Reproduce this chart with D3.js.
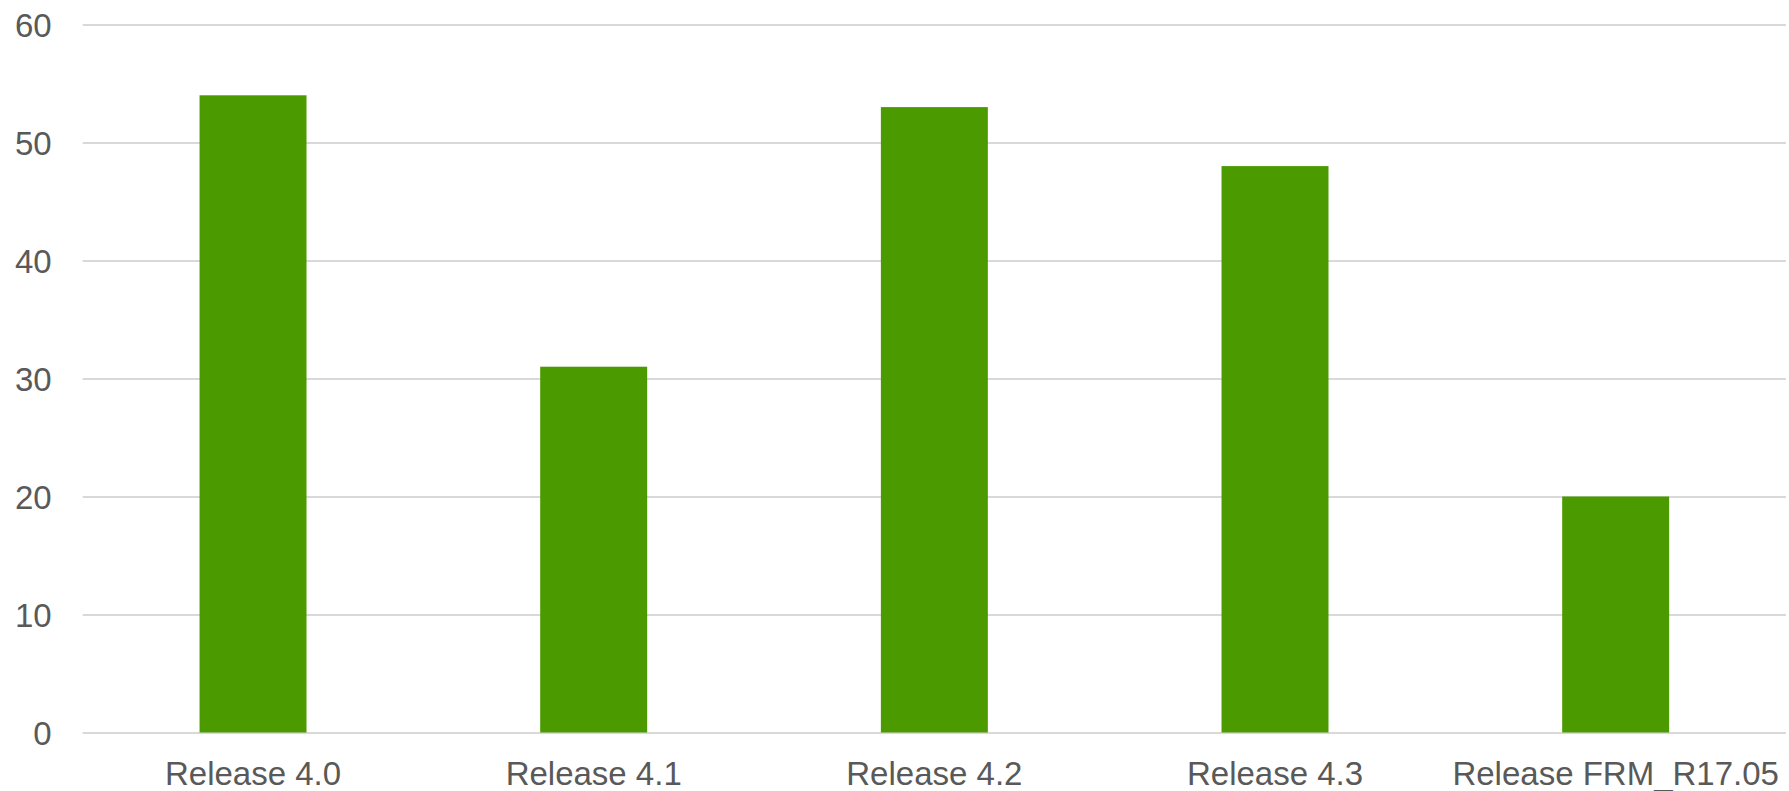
<!DOCTYPE html>
<html>
<head>
<meta charset="utf-8">
<script src="https://cdn.jsdelivr.net/npm/d3@7"></script>
<style>
  html, body { margin: 0; padding: 0; background: #fff; }
  text { font-family: "Liberation Sans", Arial, sans-serif; fill: #595959; }
</style>
</head>
<body>
<div id="chart"></div>
<script>
/* Daten */
const releases = ["Release 4.0", "Release 4.1", "Release 4.2", "Release 4.3", "Release FRM_R17.05"];
const counts = [54, 31, 53, 48, 20];
const yTicks = [0, 10, 20, 30, 40, 50, 60];

const width = 1789, height = 791;
const margin = { top: 24.5, right: 3, bottom: 58.5, left: 82.7 };

const svg = d3.select("#chart").append("svg")
  .attr("width", width)
  .attr("height", height);

const x = d3.scaleBand()
  .domain(releases)
  .range([margin.left, width - margin.right])
  .paddingInner(0.686)
  .paddingOuter(0.343);

const y = d3.scaleLinear()
  .domain([0, 60])
  .range([height - margin.bottom, margin.top]);

/* Gitterlinien + Y-Achse */
const yAxis = d3.axisLeft(y)
  .tickValues(yTicks)
  .tickSize(-(width - margin.right - margin.left));

const gy = svg.append("g")
  .attr("transform", `translate(${margin.left},0)`)
  .call(yAxis);
gy.select(".domain").remove();
gy.selectAll(".tick line").attr("stroke", "#d9d9d9").attr("stroke-width", 2);
gy.selectAll(".tick text")
  .attr("font-size", 33)
  .attr("x", -31)
  .attr("dy", "0.35em")
  .style("fill", "#595959");

/* Balken */
svg.append("g").selectAll("rect")
  .data(releases)
  .join("rect")
  .attr("x", d => x(d))
  .attr("width", x.bandwidth())
  .attr("y", (d, i) => y(counts[i]))
  .attr("height", (d, i) => y(0) - y(counts[i]))
  .attr("fill", "#4a9a00");

/* X-Achse */
const xAxis = d3.axisBottom(x).tickSize(0).tickPadding(29);
const gx = svg.append("g")
  .attr("transform", `translate(0,${y(0)})`)
  .call(xAxis);
gx.select(".domain").remove();
gx.selectAll(".tick text")
  .attr("font-size", 33)
  .style("fill", "#595959");
</script>
</body>
</html>
